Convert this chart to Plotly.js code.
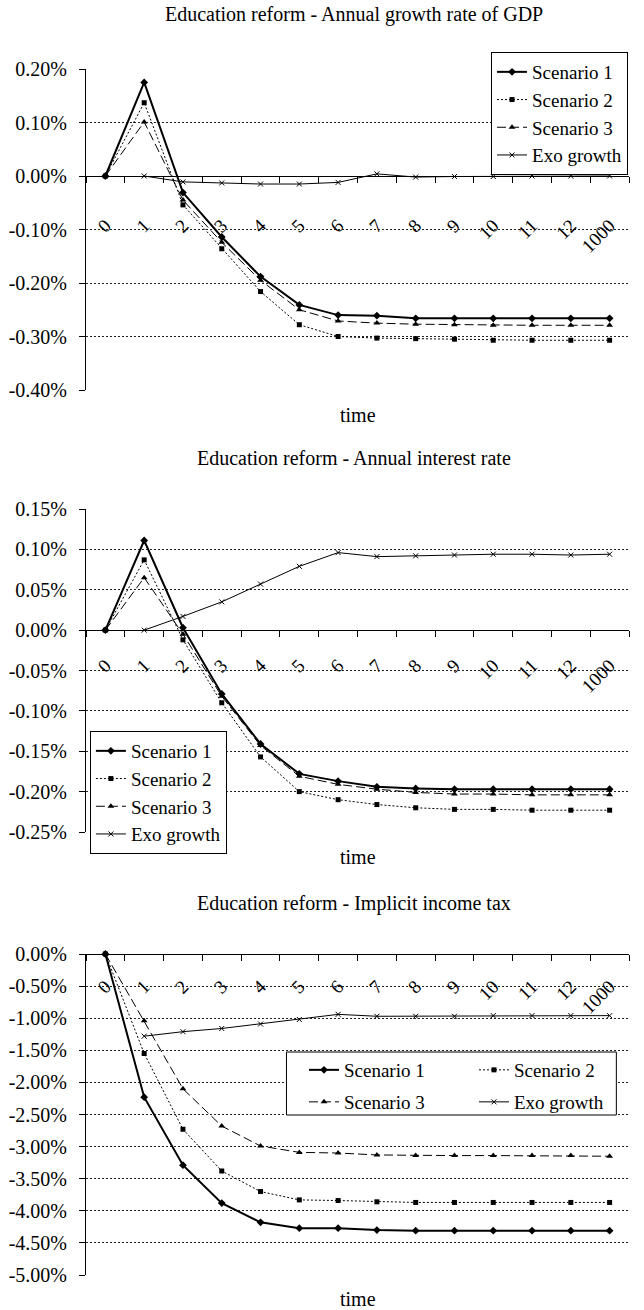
<!DOCTYPE html>
<html>
<head>
<meta charset="utf-8">
<script src="https://cdn.plot.ly/plotly-3.0.1.min.js"></script>
<style>
  html, body { margin: 0; padding: 0; background: #fff; }
  #chart { width: 644px; height: 1310px; }
</style>
</head>
<body>
<div id="chart"></div>
<script>
// Time periods on the category axis
const periods = ['0', '1', '2', '3', '4', '5', '6', '7', '8', '9', '10', '11', '12', '1000'];

// Annual growth rate of GDP (percent)
const gdpScenario1 = [0, 0.175, -0.031, -0.114, -0.188, -0.241, -0.260, -0.261, -0.266, -0.266, -0.266, -0.266, -0.266, -0.266];
const gdpScenario2 = [0, 0.137, -0.054, -0.136, -0.216, -0.278, -0.300, -0.303, -0.304, -0.305, -0.307, -0.307, -0.307, -0.307];
const gdpScenario3 = [0, 0.101, -0.045, -0.124, -0.195, -0.250, -0.271, -0.275, -0.277, -0.278, -0.279, -0.279, -0.279, -0.279];
const gdpExo       = [null, 0, -0.011, -0.013, -0.015, -0.015, -0.012, 0.004, -0.002, -0.001, -0.001, 0, 0, 0];

// Annual interest rate (percent)
const rateScenario1 = [0, 0.111, 0.003, -0.079, -0.141, -0.178, -0.187, -0.194, -0.196, -0.197, -0.197, -0.197, -0.197, -0.197];
const rateScenario2 = [0, 0.087, -0.012, -0.090, -0.157, -0.200, -0.210, -0.216, -0.220, -0.222, -0.222, -0.223, -0.223, -0.223];
const rateScenario3 = [0, 0.065, -0.005, -0.082, -0.143, -0.181, -0.191, -0.197, -0.201, -0.203, -0.203, -0.204, -0.204, -0.204];
const rateExo       = [null, 0, 0.017, 0.035, 0.057, 0.079, 0.096, 0.091, 0.092, 0.093, 0.094, 0.094, 0.093, 0.094];

// Implicit income tax (percent)
const taxScenario1 = [0, -2.23, -3.29, -3.88, -4.18, -4.27, -4.27, -4.30, -4.31, -4.31, -4.31, -4.31, -4.31, -4.31];
const taxScenario2 = [0, -1.55, -2.73, -3.38, -3.70, -3.83, -3.84, -3.86, -3.87, -3.87, -3.87, -3.87, -3.87, -3.87];
const taxScenario3 = [0, -1.04, -2.10, -2.68, -2.99, -3.09, -3.10, -3.13, -3.14, -3.14, -3.14, -3.14, -3.14, -3.15];
const taxExo       = [null, -1.28, -1.21, -1.16, -1.09, -1.02, -0.94, -0.97, -0.97, -0.97, -0.96, -0.96, -0.96, -0.96];

// Y tick values and labels
const gdpTickVals  = [0.2, 0.1, 0, -0.1, -0.2, -0.3, -0.4];
const gdpTickText  = ['0.20%', '0.10%', '0.00%', '-0.10%', '-0.20%', '-0.30%', '-0.40%'];
const rateTickVals = [0.15, 0.10, 0.05, 0, -0.05, -0.10, -0.15, -0.20, -0.25];
const rateTickText = ['0.15%', '0.10%', '0.05%', '0.00%', '-0.05%', '-0.10%', '-0.15%', '-0.20%', '-0.25%'];
const taxTickVals  = [0, -0.5, -1, -1.5, -2, -2.5, -3, -3.5, -4, -4.5, -5];
const taxTickText  = ['0.00%', '-0.50%', '-1.00%', '-1.50%', '-2.00%', '-2.50%', '-3.00%', '-3.50%', '-4.00%', '-4.50%', '-5.00%'];

const seriesNames = ['Scenario 1', 'Scenario 2', 'Scenario 3', 'Exo growth'];
const panelTitles = [
  'Education reform - Annual growth rate of GDP',
  'Education reform - Annual interest rate',
  'Education reform - Implicit income tax'
];
const axisLabel = 'time';

// ---- page geometry (pixels) ----
const W = 644, H = 1310, ML = 86, MR = 0;
const PW = W - ML - MR;
const fx = px => (px - ML) / PW;
const fy = py => 1 - py / H;
const domainOf = (topPx, bottomPx) => [fy(bottomPx), fy(topPx)];
const zeroPos = (dom, rng) => dom[0] + (0 - rng[0]) / (rng[1] - rng[0]) * (dom[1] - dom[0]);

const FONT = 'Liberation Serif, Times New Roman, serif';
const BLACK = '#000';

const styles = [
  { line: { color: BLACK, width: 2 }, marker: { symbol: 'diamond', size: 6, color: BLACK } },
  { line: { color: BLACK, width: 1, dash: '2px,2px' }, marker: { symbol: 'square', size: 5, color: BLACK } },
  { line: { color: BLACK, width: 1, dash: '9px,4px' }, marker: { symbol: 'triangle-up', size: 6, color: BLACK } },
  { line: { color: BLACK, width: 1 }, marker: { symbol: 'x-thin-open', size: 5, color: BLACK, line: { width: 1, color: BLACK } } }
];

function makeTraces(series, xa, ya, legendIds) {
  return series.map((vals, i) => ({
    type: 'scatter', mode: 'lines+markers',
    x: periods, y: vals, name: seriesNames[i],
    xaxis: xa, yaxis: ya,
    legend: legendIds[i],
    line: styles[i].line, marker: styles[i].marker,
    connectgaps: false, cliponaxis: false, hoverinfo: 'skip'
  }));
}

const dom1 = domainOf(69, 390),  rng1 = [-0.4, 0.2];
const dom2 = domainOf(509, 832), rng2 = [-0.25, 0.15];
const dom3 = domainOf(954, 1275), rng3 = [-5, 0];

function xAxis(dom, rng, standoff) {
  return {
    domain: [0, 1], anchor: 'free', position: zeroPos(dom, rng),
    type: 'category', categoryorder: 'array', categoryarray: periods,
    range: [-0.5, periods.length - 0.5],
    tickson: 'boundaries', ticks: 'outside', ticklen: 6, tickcolor: BLACK, tickwidth: 1,
    showline: true, linecolor: BLACK, linewidth: 1,
    showgrid: false, zeroline: false,
    tickangle: -45, ticklabelstandoff: standoff,
    tickfont: { family: FONT, size: 19, color: BLACK },
    fixedrange: true
  };
}
function yAxis(dom, rng, anchor, vals, text) {
  return {
    domain: dom, range: rng, anchor: anchor,
    tickmode: 'array', tickvals: vals, ticktext: text,
    ticks: 'outside', ticklen: 6, tickcolor: BLACK, tickwidth: 1,
    ticklabelstandoff: 8,
    showline: true, linecolor: BLACK, linewidth: 1,
    showgrid: true, gridcolor: '#222', gridwidth: 1, griddash: '2px,2px',
    zeroline: false,
    tickfont: { family: FONT, size: 20, color: BLACK },
    fixedrange: true
  };
}

const data = [].concat(
  makeTraces([gdpScenario1, gdpScenario2, gdpScenario3, gdpExo], 'x', 'y',
    ['legend', 'legend', 'legend', 'legend']),
  makeTraces([rateScenario1, rateScenario2, rateScenario3, rateExo], 'x2', 'y2',
    ['legend2', 'legend2', 'legend2', 'legend2']),
  makeTraces([taxScenario1, taxScenario2, taxScenario3, taxExo], 'x3', 'y3',
    ['legend3', 'legend3', 'legend4', 'legend4'])
);

const legendFont = { family: FONT, size: 19, color: BLACK };
const boxedLegend = (xPx, yPx, xanchor) => ({
  x: fx(xPx), y: fy(yPx), xanchor: xanchor, yanchor: 'top',
  bgcolor: '#fff', bordercolor: BLACK, borderwidth: 1,
  font: legendFont, tracegroupgap: 0, itemwidth: 30
});
const rowLegend = (xPx, yPx) => ({
  x: fx(xPx), y: fy(yPx), xanchor: 'left', yanchor: 'top',
  orientation: 'h', bgcolor: 'rgba(0,0,0,0)', borderwidth: 0,
  entrywidth: 125, entrywidthmode: 'pixels',
  font: legendFont, itemwidth: 30
});

const textAnno = (txt, xPx, yPx) => ({
  text: txt, xref: 'paper', yref: 'paper', x: fx(xPx), y: fy(yPx),
  xanchor: 'center', yanchor: 'middle', showarrow: false,
  font: { family: FONT, size: 20, color: BLACK }
});

const layout = {
  width: W, height: H,
  margin: { l: ML, r: MR, t: 0, b: 0, pad: 0 },
  paper_bgcolor: '#fff', plot_bgcolor: '#fff',
  font: { family: FONT, color: BLACK },
  xaxis: xAxis(dom1, rng1, 30),
  yaxis: yAxis(dom1, rng1, 'x', gdpTickVals, gdpTickText),
  xaxis2: xAxis(dom2, rng2, 16),
  yaxis2: yAxis(dom2, rng2, 'x2', rateTickVals, rateTickText),
  xaxis3: xAxis(dom3, rng3, 13),
  yaxis3: yAxis(dom3, rng3, 'x3', taxTickVals, taxTickText),
  legend: boxedLegend(643, 52, 'right'),
  legend2: boxedLegend(90, 731, 'left'),
  legend3: rowLegend(310, 1051),
  legend4: rowLegend(310, 1083),
  shapes: [{
    type: 'rect', xref: 'paper', yref: 'paper', layer: 'above',
    x0: fx(292), x1: fx(631), y0: fy(1115), y1: fy(1052),
    fillcolor: '#fff', line: { color: BLACK, width: 1 }
  }],
  annotations: [
    textAnno(panelTitles[0], 361, 14),
    textAnno(axisLabel, 365, 415),
    textAnno(panelTitles[1], 361, 458),
    textAnno(axisLabel, 365, 857),
    textAnno(panelTitles[2], 361, 903),
    textAnno(axisLabel, 365, 1299)
  ],
  showlegend: true
};

Plotly.newPlot('chart', data, layout, { staticPlot: true, displayModeBar: false });
</script>
</body>
</html>
